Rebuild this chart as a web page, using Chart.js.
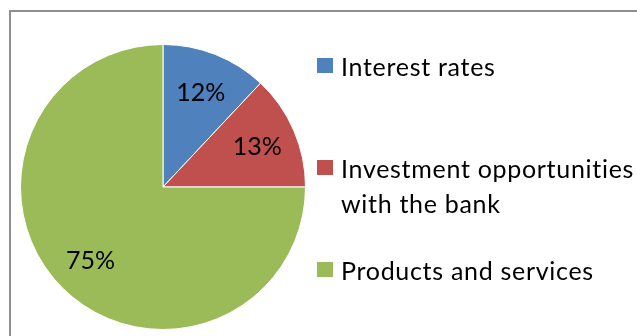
<!DOCTYPE html>
<html>
<head>
<meta charset="utf-8">
<script src="https://cdn.jsdelivr.net/npm/chart.js@4"></script>
<style>
  html, body { margin: 0; padding: 0; background: #fff; }
  #wrap { position: relative; width: 637px; height: 336px; overflow: hidden; }
  #frame {
    position: absolute; left: 9px; top: 10px; width: 700px; height: 400px;
    border: 2px solid #8e8e8e; box-sizing: border-box;
  }
  #pie { position: absolute; left: 0; top: 0; }
  #legend {
    position: absolute; left: 317px; top: 0; margin: 0; padding: 0; list-style: none;
    font-family: Lato, sans-serif; font-size: 25px; color: #000; line-height: 35px;
    letter-spacing: 0.7px; font-variant-ligatures: none;
  }
  #legend li { position: absolute; left: 0; white-space: nowrap; }
  #legend .box {
    position: absolute; left: 0; width: 16px; height: 15px;
  }
  #legend .txt { position: absolute; left: 24px; top: 0; }
</style>
</head>
<body>
<div id="wrap">
  <div id="frame"></div>
  <canvas id="pie" width="637" height="336"></canvas>
  <ul id="legend"></ul>
</div>
<script>
// categories and shares (percent)
const categories = ['Interest rates', 'Investment opportunities\nwith the bank', 'Products and services'];
const shares = [12, 13, 75];
const colors = ['#4F81BD', '#C0504D', '#9BBB59'];

const FONT_FAMILY = "Lato, sans-serif";

// percent labels inside each slice
const sliceLabels = {
  id: 'sliceLabels',
  afterDatasetsDraw(chart) {
    const { ctx } = chart;
    const meta = chart.getDatasetMeta(0);
    ctx.save();
    ctx.font = `25px ${FONT_FAMILY}`;
    ctx.fillStyle = '#000';
    ctx.textAlign = 'center';
    ctx.textBaseline = 'middle';
    meta.data.forEach((arc, i) => {
      const p = arc.getProps(['x', 'y', 'startAngle', 'endAngle', 'outerRadius'], true);
      const mid = (p.startAngle + p.endAngle) / 2;
      const r = p.outerRadius * 0.72;
      ctx.fillText(shares[i] + '%', p.x + Math.cos(mid) * r, p.y + Math.sin(mid) * r + 1);
    });
    ctx.restore();
  }
};

const ctx = document.getElementById('pie').getContext('2d');
new Chart(ctx, {
  type: 'pie',
  data: {
    labels: categories,
    datasets: [{
      data: shares,
      backgroundColor: colors,
      borderColor: '#ffffff',
      borderWidth: 1
    }]
  },
  options: {
    responsive: false,
    animation: false,
    layout: { padding: { left: 20, right: 331, top: 44, bottom: 6 } },
    plugins: {
      legend: { display: false },
      tooltip: { enabled: false }
    }
  },
  plugins: [sliceLabels]
});

// legend rows (top of each entry)
const legendTops = [49, 151, 253];
const legend = document.getElementById('legend');
categories.forEach((name, i) => {
  const li = document.createElement('li');
  li.style.top = legendTops[i] + 'px';
  const box = document.createElement('span');
  box.className = 'box';
  box.style.background = colors[i];
  box.style.top = '9px';
  const txt = document.createElement('span');
  txt.className = 'txt';
  txt.innerHTML = name.replace('\n', '<br>');
  li.appendChild(box);
  li.appendChild(txt);
  legend.appendChild(li);
});
</script>
</body>
</html>
